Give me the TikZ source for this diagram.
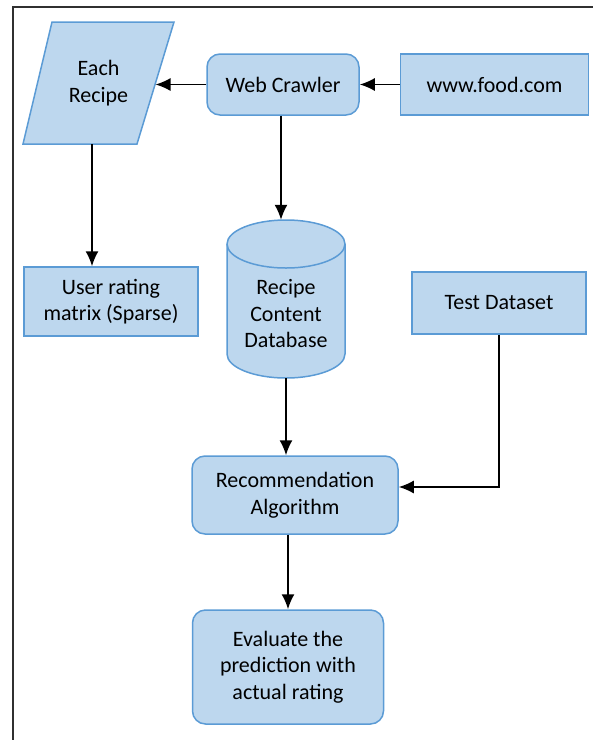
\documentclass[tikz,border=0pt]{standalone}
\usepackage{fontspec}
\setmainfont{Carlito}
\definecolor{boxfill}{HTML}{BDD7EE}
\definecolor{boxline}{HTML}{5B9BD5}
\definecolor{framegray}{HTML}{303030}
\usetikzlibrary{positioning}
\usetikzlibrary{arrows.meta}

\tikzset{
  flowtext/.style={align=center, font=\fontsize{22}{26.5}\selectfont, inner sep=0pt},
  flowbox/.style={flowtext, draw=boxline, fill=boxfill, line width=1.5pt},
  roundbox/.style={flowbox, rounded corners=13pt},
  flowarrow/.style={-{Latex[length=15pt,width=13pt]}, line width=1.6pt, black}
}

\begin{document}
\begin{tikzpicture}[x=1pt, y=-1pt]
  \useasboundingbox (0,0) rectangle (593,740);
  \draw[framegray, line width=2pt] (13,740) -- (13,7) -- (593,7);

  % top row
  \draw[flowbox] (52,22) -- (174,22) -- (137,144) -- (23,144) -- cycle;
  \node[flowtext] (recipe) at (98.5,83) {Each\\Recipe};
  \coordinate (recipeR) at (155.5,84.5);
  \coordinate (recipeB) at (92,144);
  \node[roundbox, minimum width=152, minimum height=61] (crawler) at (283,84.5) {Web Crawler};
  \node[flowbox, minimum width=188, minimum height=61] (food) at (494.5,84.5) {www.food.com};

  % middle row
  \node[flowbox, minimum width=174, minimum height=69] (user) at (111,301.5) {User rating\\matrix (Sparse)};
  \draw[flowbox] (227,244) -- (227,354) arc[start angle=180, end angle=360, x radius=59pt, y radius=24pt]
    -- (345,244) arc[start angle=0, end angle=180, x radius=59pt, y radius=24pt] -- cycle;
  \draw[flowbox, fill=none] (227,244) arc[start angle=180, end angle=360, x radius=59pt, y radius=24pt];
  \node[flowtext, minimum width=118, minimum height=158] (db) at (286,299)
        {\smash{\raisebox{-22pt}{\begin{tabular}{@{}c@{}}Recipe\\Content\\Database\end{tabular}}}};
  \node[flowbox, minimum width=174, minimum height=62] (test) at (499,303) {Test Dataset};

  % bottom
  \node[roundbox, minimum width=206, minimum height=78] (rec) at (295,495) {Recommendation\\Algorithm};
  \node[roundbox, minimum width=191, minimum height=114] (eval) at (288,667) {Evaluate the\\prediction with\\actual rating};

  \draw[flowarrow] (food) -- (crawler);
  \draw[flowarrow] (crawler) -- (recipeR);
  \draw[flowarrow] ([xshift=-2pt]crawler.south) -- ([xshift=-2pt]crawler.south |- db.north);
  \draw[flowarrow] (recipeB) -- (recipeB |- user.north);
  \draw[flowarrow] (db.south) -- (db.south |- rec.north);
  \draw[flowarrow] (test.south) |- ([yshift=8pt]rec.east);
  \draw[flowarrow] (rec.south -| eval.north) -- (eval.north);
\end{tikzpicture}
\end{document}
